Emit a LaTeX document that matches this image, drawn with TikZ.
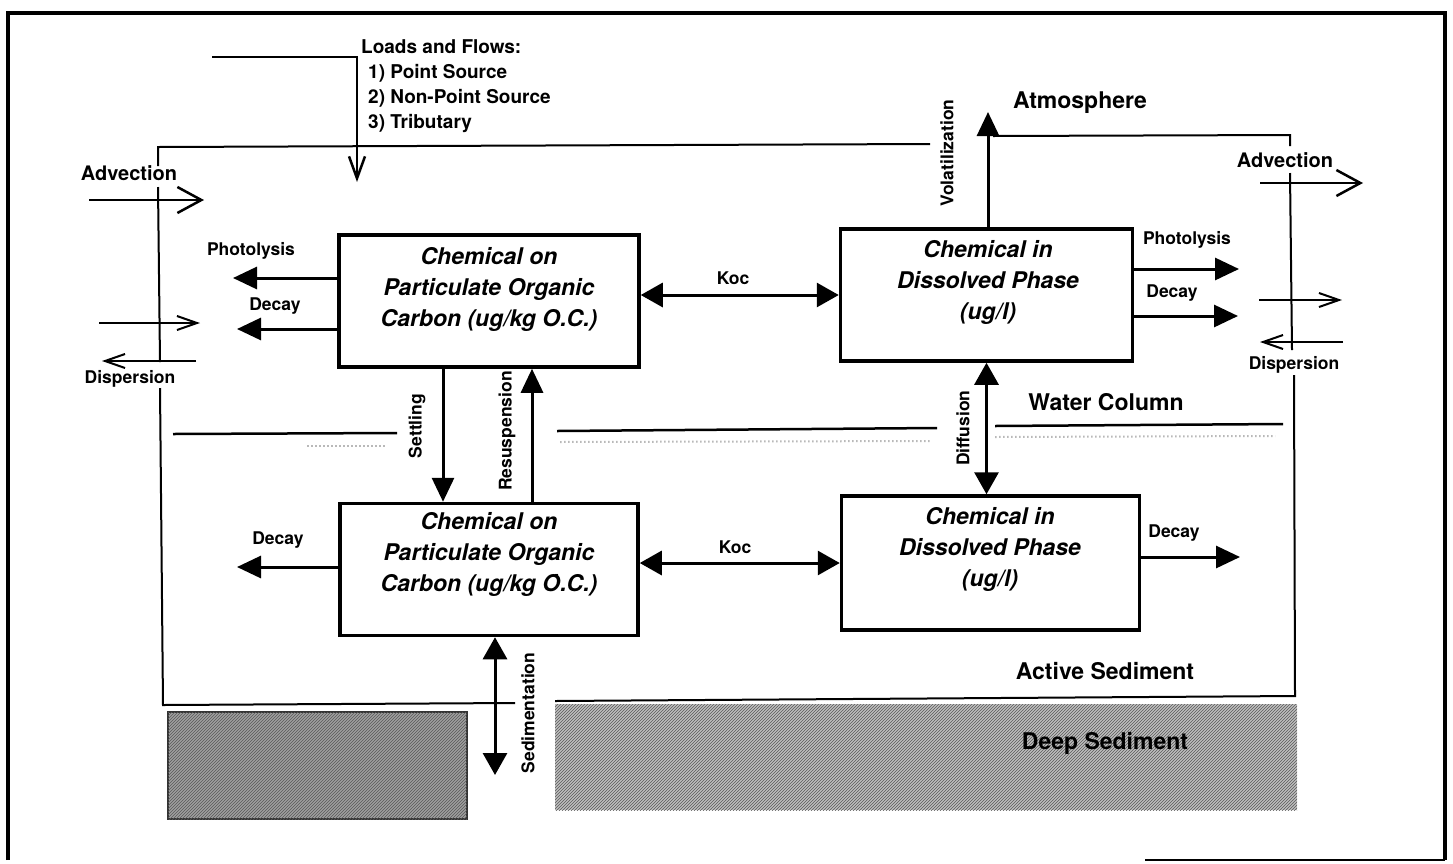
\documentclass[tikz,border=0pt]{standalone}
\usepackage{fontspec}
\setmainfont{TeX Gyre Heros}
\usetikzlibrary{arrows.meta, patterns, calc}

\begin{document}
\begin{tikzpicture}[
  x=1pt, y=-1pt,
  box/.style={draw, line width=3.5pt, minimum width=300pt,
              minimum height=132pt, inner sep=0pt},
  boxtext/.style={font=\fontsize{23}{31}\selectfont\bfseries\itshape,
                  align=center, inner sep=0pt},
  lbl/.style={font=\fontsize{17.5}{20}\selectfont\bfseries, inner sep=0pt},
  biglbl/.style={font=\fontsize{23}{28}\selectfont\bfseries, inner sep=0pt},
  advlbl/.style={font=\fontsize{20}{24}\selectfont\bfseries, inner sep=0pt},
  arrow/.style={-{Triangle[length=24pt,width=22pt]}, line width=3pt},
  dblarrow/.style={{Triangle[length=22pt,width=24pt]}-{Triangle[length=22pt,width=24pt]},
                   line width=3pt},
  flow/.style={-{Straight Barb[length=24pt,width=26pt]}, line width=2.5pt},
  thinflow/.style={-{Straight Barb[length=20pt,width=14pt]}, line width=2pt},
  bound/.style={line width=2pt},
  speck/.style={gray!55, line width=2pt, dash pattern=on 1.5pt off 2.5pt},
  deep/.style={fill=gray!50, postaction={pattern=north east lines, pattern color=black!65}}
]

\fill[white] (0,0) rectangle (1453,863);
\path[use as bounding box] (0,0) rectangle (1453,863);

%% outer frame
\draw[line width=4.5pt] (8,860) -- (8,13) -- (1445,13) -- (1445,860);
\draw[line width=2pt] (1145,860) -- (1445,860);

%% loads and flows
\node[anchor=north west, align=left, inner sep=0pt,
      font=\fontsize{19}{25}\selectfont\bfseries] (loads) at (361,39)
  {Loads and Flows:\\
   \hspace*{7pt}1) Point Source\\
   \hspace*{7pt}2) Non-Point Source\\
   \hspace*{7pt}3) Tributary};
\coordinate (loadin)  at (212,57);
\coordinate (loadout) at (357,182);
\draw[flow, -{Straight Barb[length=22pt,width=16pt]}] (loadin) -| (loadout);

%% water column boundaries
\draw[bound] (158,166) -- (158,147) -- (930,144);
\draw[bound] (993,136) -- (1290,135) -- (1290,146);
\draw[bound] (158,187) -- (160,362);
\draw[bound] (160,388) -- (163,705) -- (515,703);
\draw[bound] (555,701) -- (1295,696) -- (1294,375);
\draw[bound] (1290,173) -- (1292,350);
\draw[line width=2.5pt] (173,434) -- (397,433);
\draw[line width=2.5pt] (557,431) -- (937,428);
\draw[line width=2.5pt] (995,426) -- (1283,424);
\draw[speck] (307,446) -- (387,446);
\draw[speck] (560,442) -- (930,441);
\draw[speck] (995,437) -- (1275,436);

%% compartments
\node[box] (pocw)  at (489,301)   {};
\node[box, minimum width=292pt] (dissw) at (986.5,295) {};
\node[box, minimum width=298pt] (pocs)  at (489,569.5) {};
\node[box, minimum width=298pt, minimum height=134pt] (disss) at (990.5,563) {};

\node[boxtext] (pocwtxt)  at (489,289) {Chemical on\\Particulate Organic\\Carbon (ug/kg O.C.)};
\node[boxtext] (disswtxt) at (988,282) {Chemical in\\Dissolved Phase\\(ug/l)};
\node[boxtext] (pocstxt)  at (489,554) {Chemical on\\Particulate Organic\\Carbon (ug/kg \.O.C.)};
\node[boxtext] (dissstxt) at (990,549) {Chemical in\\Dissolved Phase\\(ug/l)};

%% exchange between compartments
\draw[dblarrow] (pocw.east |- dissw.west) -- (dissw.west);
\node[lbl] (kocw) at (733,278) {Koc};
\draw[dblarrow] (pocs.east |- disss.west) -- (disss.west);
\node[lbl] (kocs) at (735,547) {Koc};

\draw[arrow] ([xshift=-46pt]pocw.south) -- ([xshift=-46pt]pocw.south |- pocs.north);
\node[lbl, rotate=90] (settl) at (417,426) {Settling};
\draw[arrow] ([xshift=43pt]pocs.north) -- ([xshift=43pt]pocs.north |- pocw.south);
\node[lbl, rotate=90] (resus) at (507,431) {Resuspension};

\draw[dblarrow] (dissw.south) -- (dissw.south |- disss.north);
\node[lbl, rotate=90] (diffu) at (963,428) {Diffusion};

\coordinate (atmtip) at (988,112);
\draw[arrow] (dissw.north -| atmtip) -- (atmtip);
\node[lbl, rotate=90] (volat) at (947,153) {Volatilization};
\node[biglbl] (atmo) at (1080,103) {Atmosphere};

\coordinate (sedtip) at (495,775);
\draw[dblarrow] (pocs.south -| sedtip) -- (sedtip);
\node[lbl, rotate=90] (sedim) at (528,713) {Sedimentation};

%% losses
\coordinate (photlw) at (233,278);
\coordinate (decaylw) at (237,329);
\coordinate (decayls) at (237,567);
\coordinate (photrw) at (1239,269);
\coordinate (decayrw) at (1238,316);
\coordinate (decayrs) at (1240,557);
\draw[arrow] (pocw.west |- photlw) -- (photlw);
\draw[arrow] (pocw.west |- decaylw) -- (decaylw);
\draw[arrow] (pocs.west |- decayls) -- (decayls);
\draw[arrow] (dissw.east |- photrw) -- (photrw);
\draw[arrow] (dissw.east |- decayrw) -- (decayrw);
\draw[arrow] (disss.east |- decayrs) -- (decayrs);
\node[lbl] (photwl) at (251,251) {Photolysis};
\node[lbl] (decwl)  at (275,306) {Decay};
\node[lbl] (decsl)  at (278,540) {Decay};
\node[lbl] (photwr) at (1187,240) {Photolysis};
\node[lbl] (decwr)  at (1172,293) {Decay};
\node[lbl] (decsr)  at (1174,533) {Decay};

%% advection and dispersion
\node[advlbl] (advl) at (129,173) {Advection};
\coordinate (advlin) at (89,200);
\coordinate (advlout) at (204,200);
\draw[flow] (advlin) -- (advlout);
\coordinate (displin) at (99,323);
\coordinate (displout) at (200,323);
\draw[thinflow] (displin) -- (displout);
\coordinate (displbin) at (196,361);
\coordinate (displbout) at (102,361);
\draw[thinflow] (displbin) -- (displbout);
\node[lbl] (displ) at (130,379) {Dispersion};

\node[advlbl] (advr) at (1285,160) {Advection};
\coordinate (advrin) at (1260,183);
\coordinate (advrout) at (1363,183);
\draw[flow] (advrin) -- (advrout);
\coordinate (disprin) at (1259,300);
\coordinate (disprout) at (1342,300);
\draw[thinflow] (disprin) -- (disprout);
\coordinate (disprbin) at (1343,342);
\coordinate (disprbout) at (1260,342);
\draw[thinflow] (disprbin) -- (disprbout);
\node[lbl] (dispr) at (1294,365) {Dispersion};

%% region labels
\node[biglbl] (wcol) at (1106,402) {Water Column};
\node[biglbl] (actsed) at (1105,671) {Active Sediment};

%% deep sediment
\path[deep] (555,704) rectangle (1297,810);
\path[deep, fill=gray!75, draw=black!80, line width=2pt] (168,712) rectangle (467,819);
\node[biglbl] (deepsed) at (1105,743) {Deep Sediment};

\end{tikzpicture}
\end{document}
